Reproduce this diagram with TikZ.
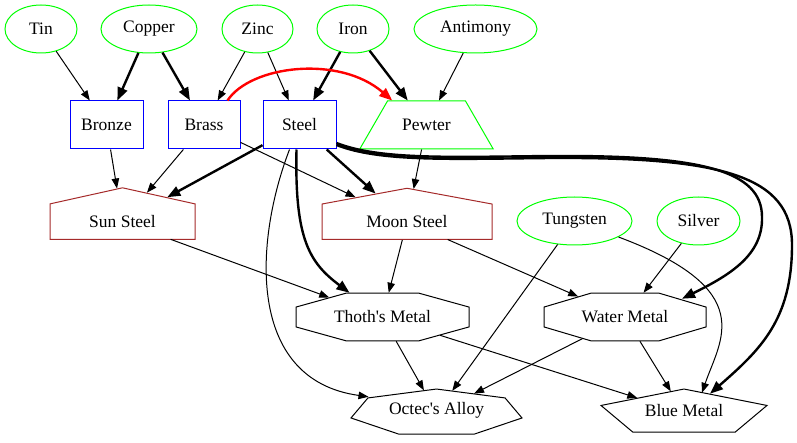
\documentclass[tikz,border=0pt]{standalone}
\usepackage{fontspec}
\setmainfont{Liberation Serif}[Ligatures=TeXOff]
\usetikzlibrary{shapes.geometric,shapes.symbols,arrows.meta,positioning}
\definecolor{gvgreen}{RGB}{0,255,0}
\definecolor{gvblue}{RGB}{0,0,255}
\definecolor{gvbrown}{RGB}{165,42,42}
\tikzset{
  element/.style={ellipse,draw=gvgreen,line width=1pt,inner sep=0pt,minimum height=48pt},
  alloy/.style={rectangle,draw=gvblue,line width=1pt,inner sep=0pt,minimum width=72pt,minimum height=48pt},
  steelhouse/.style={signal,signal to=north,signal from=nowhere,draw=gvbrown,line width=1pt,inner sep=0pt,minimum height=43pt},
  metalpoly/.style={regular polygon,draw,line width=1pt,inner sep=0pt,minimum size=100pt,transform shape},
  link/.style={line width=1pt,-{Triangle[length=10pt,width=7.5pt]}},
  heavy/.style={line width=2.4pt,-{Triangle[length=13pt,width=10pt]}},
  redlink/.style={heavy,draw=red,-{Triangle[length=13pt,width=10pt,fill=red]}}
}

\begin{document}
\begin{tikzpicture}[x=1pt,y=-1pt,font=\fontsize{17.5}{21}\selectfont]
\useasboundingbox (0,0) rectangle (797,443);
%elements
\node[element,minimum width=72pt] (tin) at (41,29) {Tin};
\node[element,minimum width=96pt] (copper) at (149,29) {Copper};
\node[element,minimum width=71pt] (zinc) at (257.5,29) {Zinc};
\node[element,minimum width=72pt] (iron) at (353,29) {Iron};
\node[element,minimum width=123pt] (antimony) at (475.5,29) {Antimony};
\node[element,minimum width=115pt] (tungsten) at (574.5,221) {Tungsten};
\node[element,minimum width=83pt] (silver) at (698.5,221) {Silver};
%alloys
\node[alloy,minimum width=73pt] (bronze) at (106.5,125) {Bronze};
\node[alloy] (brass) at (204,125) {Brass};
\node[alloy,minimum width=73pt] (steel) at (299.5,125) {Steel};
\node[trapezium,trapezium angle=60,draw=gvgreen,line width=1pt,inner xsep=0pt,inner ysep=18pt,
  text width=78pt,align=center,text height=12pt,text depth=0pt] (pewter) at (426.5,125) {Pewter};
\node[steelhouse,signal pointer angle=155,minimum width=145pt,anchor=south] (sun) at (122.5,240) {Sun Steel};
\node[steelhouse,signal pointer angle=159,minimum width=170pt,anchor=south] (moon) at (407,240) {Moon Steel};
%compounds
\node[metalpoly,regular polygon sides=8,shift={(382.5,317)},xscale=1.8725,yscale=0.5195] (thoth) at (0,0) {};
\node (thothtext) at (thoth) {Thoth's Metal};
\node[metalpoly,regular polygon sides=8,shift={(625,317)},xscale=1.7534,yscale=0.5195] (water) at (0,0) {};
\node (watertext) at (water) {Water Metal};
\node[metalpoly,regular polygon sides=7,shift={(436.5,412.7)},xscale=1.754,yscale=0.4734] (octec) at (0,0) {};
\node (octectext) at ([yshift=2pt]octec) {Octec's Alloy};
\node[metalpoly,regular polygon sides=5,shift={(684,412.8)},xscale=1.745,yscale=0.4754] (blue) at (0,0) {};
\node (bluetext) at ([yshift=2pt]blue) {Blue Metal};
%edges
\draw[link] (tin) -- (bronze);
\draw[heavy] (copper) -- (bronze);
\draw[heavy] (copper) -- (brass);
\draw[link] (zinc) -- (brass);
\draw[link] (zinc) -- (steel);
\draw[heavy] (iron) -- (steel);
\draw[heavy] (iron) -- (pewter);
\draw[link] (antimony) -- (pewter);
\draw[redlink] ([xshift=-13pt]brass.north east) .. controls +(23,-35) and +(-53,-46) .. ([xshift=5pt]pewter.top left corner);
\draw[link] (bronze) -- (sun);
\draw[link] (brass) -- (sun);
\draw[heavy] (steel) -- (sun);
\draw[link] (brass) -- (moon);
\draw[heavy] (steel) -- (moon);
\draw[link] (pewter) -- (moon);
\draw[link] (sun) -- (thoth);
\draw[link] (moon) -- (thoth);
\draw[link] (moon) -- (water);
\draw[link] (silver) -- (water);
\draw[link] (tungsten) -- (octec);
\draw[link] (thoth) -- (octec);
\draw[link] (water) -- (octec);
\draw[link] (thoth) -- (blue);
\draw[link] (water) -- (blue);
%curved
\draw[heavy] ([xshift=-3pt]steel.south) .. controls +(-2,90) and +(-40,-30) .. ([xshift=-33pt]thoth.north);
\draw[link] ([xshift=-10pt]steel.south) .. controls +(-35,91) and +(-123,-17) .. ([xshift=-68pt,yshift=-8pt]octec.north);
\draw[heavy] ([yshift=-18pt]steel.east) .. controls (380,160) and (450,157) .. (550,156)
  .. controls (700,155) and (762,170) .. (762,217)
  .. controls (763,255) and (730,275) .. ([xshift=57pt,yshift=-6pt]water.north);
\draw[heavy] ([yshift=-20pt]steel.east) .. controls (380,162) and (450,159) .. (550,158)
  .. controls (720,157) and (792,175) .. (792,245)
  .. controls (792,320) and (760,350) .. ([xshift=26pt,yshift=-5pt]blue.north);
\draw[link] (tungsten.-20) .. controls (760,290) and (720,340) .. ([xshift=18pt,yshift=-4pt]blue.north);
\end{tikzpicture}
\end{document}
